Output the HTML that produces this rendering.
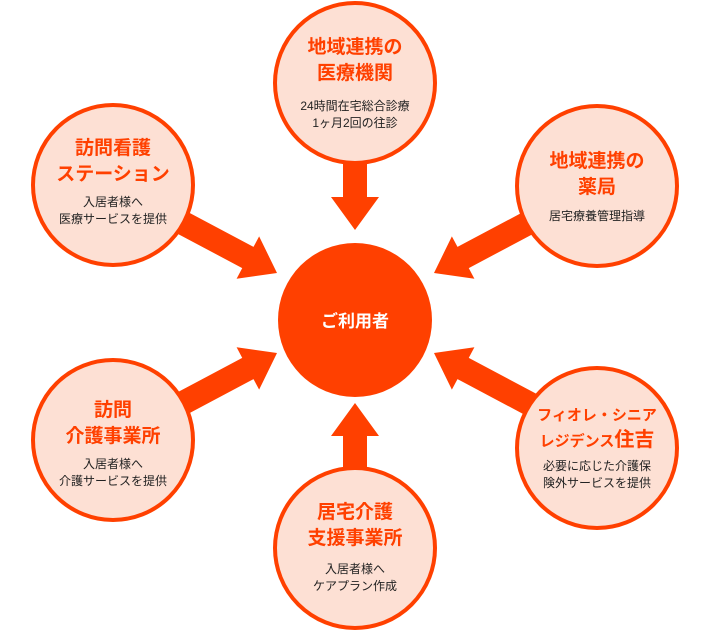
<!DOCTYPE html>
<html><head><meta charset="utf-8"><style>
html,body{margin:0;padding:0;background:#fff;width:710px;height:631px;overflow:hidden}
svg{display:block}
text{font-family:"Liberation Sans","Noto Sans CJK JP",sans-serif;text-anchor:middle}
.t{font-size:19px;font-weight:bold;fill:#ff4000}
.s{font-size:12px;fill:#222}
.c{fill:#fde0d4;stroke:#ff4000;stroke-width:4}
.a{fill:#ff4000}
</style></head><body>
<svg width="710" height="631" viewBox="0 0 710 631">
<defs>
<!-- arrow pointing +x, tip at 0,0 -->
<g id="ar"><polygon class="a" points="0,0 -33,-24 -33,-12 -110,-12 -110,12 -33,12 -33,24"/></g>
</defs>
<!-- arrows -->
<use href="#ar" transform="translate(277,273) rotate(28)"/>
<use href="#ar" transform="translate(434,273) rotate(152)"/>
<use href="#ar" transform="translate(277,353) rotate(-28)"/>
<use href="#ar" transform="translate(434,353) rotate(-152)"/>
<use href="#ar" transform="translate(355,230) rotate(90)"/>
<use href="#ar" transform="translate(355,403) rotate(-90)"/>
<!-- center -->
<circle cx="355" cy="320" r="77" fill="#ff4000"/>
<text x="355" y="327" style="font-size:17px;font-weight:bold;fill:#fff">ご利用者</text>
<!-- top -->
<circle class="c" cx="355" cy="83" r="80"/>
<text class="t" x="355" y="53">地域連携の</text>
<text class="t" x="355" y="79">医療機関</text>
<text class="s" x="355" y="110">24時間在宅総合診療</text>
<text class="s" x="355" y="127">1ヶ月2回の往診</text>
<!-- top-left -->
<circle class="c" cx="113" cy="185" r="80"/>
<text class="t" x="113" y="154">訪問看護</text>
<text class="t" x="113" y="180">ステーション</text>
<text class="s" x="113" y="206">入居者様へ</text>
<text class="s" x="113" y="223">医療サービスを提供</text>
<!-- top-right -->
<circle class="c" cx="597" cy="186" r="80"/>
<text class="t" x="597" y="167">地域連携の</text>
<text class="t" x="597" y="193">薬局</text>
<text class="s" x="597" y="220">居宅療養管理指導</text>
<!-- bottom-left -->
<circle class="c" cx="113" cy="440" r="80"/>
<text class="t" x="113" y="416">訪問</text>
<text class="t" x="113" y="442">介護事業所</text>
<text class="s" x="113" y="468">入居者様へ</text>
<text class="s" x="113" y="485">介護サービスを提供</text>
<!-- bottom-right -->
<circle class="c" cx="597" cy="448" r="80"/>
<text class="t" x="597" y="420" style="font-size:15px">フィオレ・シニア</text>
<text class="t" x="597" y="446"><tspan style="font-size:15px">レジデンス</tspan><tspan style="font-size:20px">住吉</tspan></text>
<text class="s" x="597" y="470">必要に応じた介護保</text>
<text class="s" x="597" y="487">険外サービスを提供</text>
<!-- bottom -->
<circle class="c" cx="355" cy="548" r="80"/>
<text class="t" x="355" y="518">居宅介護</text>
<text class="t" x="355" y="544">支援事業所</text>
<text class="s" x="355" y="573">入居者様へ</text>
<text class="s" x="355" y="590">ケアプラン作成</text>
</svg>
</body></html>
